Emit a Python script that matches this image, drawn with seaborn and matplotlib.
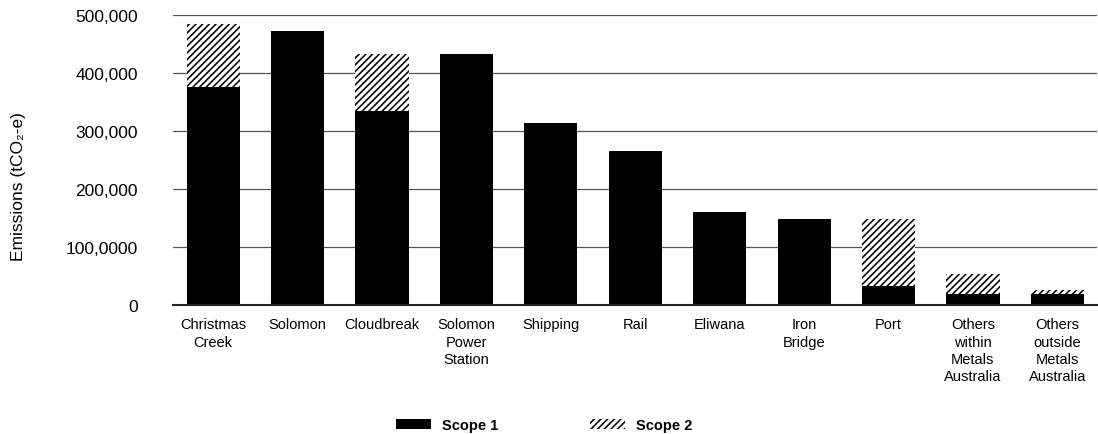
import matplotlib
matplotlib.use("Agg")
import matplotlib.pyplot as plt
import seaborn as sns
import pandas as pd
from matplotlib.patches import Patch
from matplotlib.ticker import FixedLocator, FixedFormatter

categories = ["Christmas\nCreek", "Solomon", "Cloudbreak", "Solomon\nPower\nStation",
              "Shipping", "Rail", "Eliwana", "Iron\nBridge", "Port",
              "Others\nwithin\nMetals\nAustralia", "Others\noutside\nMetals\nAustralia"]
scope1 = [376000, 472000, 335000, 433000, 313000, 266000, 161000, 148000, 33000, 19000, 19000]
scope2 = [109000, 0, 98000, 0, 0, 0, 0, 0, 115000, 34000, 6000]
ytick_values = [0, 100000, 200000, 300000, 400000, 500000]
ytick_labels = ["0", "100,0000", "200,000", "300,000", "400,000", "500,000"]
legend_labels = ["Scope 1", "Scope 2"]
ylabel = "Emissions (tCO\u2082-e)"

sns.set_style("white")
plt.rcParams["font.family"] = ["Liberation Sans", "DejaVu Sans"]
plt.rcParams["hatch.linewidth"] = 1.15
plt.rcParams["hatch.color"] = "black"

df = pd.DataFrame({"site": categories, "scope1": scope1, "scope2": scope2})
df["total"] = df["scope1"] + df["scope2"]

fig = plt.figure(figsize=(10.98, 4.35), dpi=100)
ax = fig.add_axes([0.1573, 0.2966, 0.8418, 0.6666])

sns.barplot(data=df, x="site", y="total", color="white", saturation=1,
            width=0.63, ax=ax, linewidth=0, edgecolor="black")
for p in ax.patches:
    p.set_hatch("/////")
    p.set_edgecolor("black")
    p.set_linewidth(0)
sns.barplot(data=df, x="site", y="scope1", color="black", saturation=1,
            width=0.63, ax=ax, linewidth=0)

ax.set_xlim(-0.48, 10.47)
ax.set_ylim(0, 500000)
ax.yaxis.set_major_locator(FixedLocator(ytick_values))
ax.yaxis.set_major_formatter(FixedFormatter(ytick_labels))
ax.grid(axis="y", color="#555555", linewidth=0.9)
ax.set_axisbelow(True)
for s in ["top", "right", "left"]:
    ax.spines[s].set_visible(False)
ax.spines["bottom"].set_color("#222222")
ax.spines["bottom"].set_linewidth(1.5)
ax.tick_params(axis="y", length=0, pad=25, labelsize=12.5, colors="black")
ax.tick_params(axis="x", length=0, pad=9, labelsize=10.5, colors="black")
for t in ax.get_xticklabels():
    t.set_linespacing(1.28)
ax.set_xlabel("")
ax.set_ylabel("")
fig.text(0.0164, 0.57, ylabel, rotation=90, ha="center", va="center", fontsize=12.5,
         color="black")

handles = [Patch(facecolor="black", edgecolor="black", linewidth=0),
           Patch(facecolor="white", edgecolor="black", hatch="/////", linewidth=0)]
fig.legend(handles, legend_labels, loc="lower center", bbox_to_anchor=(0.4955, -0.026),
           ncol=2, frameon=False, handlelength=2.4, handleheight=0.75,
           handletextpad=0.75, columnspacing=6.3, labelcolor="black",
           prop={"weight": "bold", "size": 10.5})

fig.savefig("out.png", dpi=100)
